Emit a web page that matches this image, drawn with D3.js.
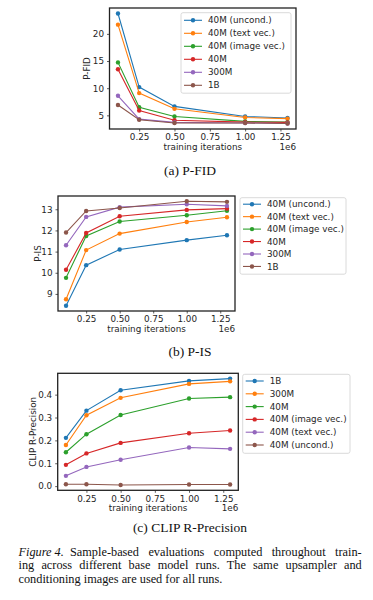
<!DOCTYPE html>
<html>
<head>
<meta charset="utf-8">
<script src="https://cdn.jsdelivr.net/npm/d3@7"></script>
<style>
  body { margin: 0; background: #fff; }
  svg { display: block; }
  .tick text, .lab, .leg { font-family: "DejaVu Sans", sans-serif; font-size: 8.8px; fill: #262626; }
  .cap { font-family: "Liberation Serif", "Times New Roman", serif; fill: #111; }
</style>
</head>
<body>
<svg id="fig" width="373" height="600"></svg>
<script>
// training iterations (x 1e6)
var iters = [0.1, 0.25, 0.5, 1.0, 1.3];
var xTicks = [0.25, 0.5, 0.75, 1.0, 1.25];

// run names, legend order
var runsAB = ["40M (uncond.)", "40M (text vec.)", "40M (image vec.)", "40M", "300M", "1B"];
var runsC = ["1B", "300M", "40M", "40M (image vec.)", "40M (text vec.)", "40M (uncond.)"];

var colors = ["#1f77b4", "#ff7f0e", "#2ca02c", "#d62728", "#9467bd", "#8c564b"];

// (a) P-FID, same order as runsAB
var pfid = [
  [23.75, 10.2, 6.65, 4.8, 4.5],
  [21.7, 9.1, 6.2, 4.6, 4.4],
  [14.75, 6.5, 4.8, 3.9, 3.75],
  [13.5, 5.9, 4.1, 3.75, 3.7],
  [8.6, 4.3, 3.7, 3.6, 3.5],
  [6.9, 4.2, 3.6, 3.6, 3.5]
];
var pfidTicks = [5, 10, 15, 20];

// (b) P-IS, same order as runsAB
var pis = [
  [8.44, 10.36, 11.1, 11.54, 11.77],
  [8.75, 11.07, 11.85, 12.4, 12.62],
  [9.76, 11.74, 12.42, 12.72, 12.93],
  [10.14, 11.88, 12.67, 12.97, 13.03],
  [11.3, 12.64, 13.1, 13.24, 13.16],
  [11.9, 12.92, 13.06, 13.38, 13.35]
];
var pisTicks = [9, 10, 11, 12, 13];

// (c) CLIP R-Precision, same order as runsC
var clip = [
  [0.211, 0.33, 0.419, 0.46, 0.47],
  [0.18, 0.31, 0.386, 0.447, 0.458],
  [0.148, 0.227, 0.311, 0.383, 0.389],
  [0.093, 0.143, 0.189, 0.231, 0.243],
  [0.045, 0.084, 0.115, 0.169, 0.163],
  [0.008, 0.008, 0.005, 0.007, 0.007]
];
var clipTicks = [0.0, 0.1, 0.2, 0.3, 0.4];

var svg = d3.select("#fig");

// matplotlib style 5% margins
function padded(values) {
  var ext = d3.extent(values);
  var m = (ext[1] - ext[0]) * 0.05;
  return [ext[0] - m, ext[1] + m];
}

function drawPanel(p) {
  var g = svg.append("g");
  var x = d3.scaleLinear().domain(padded(iters)).range([p.left, p.right]);
  var y = d3.scaleLinear().domain(padded(d3.merge(p.values))).range([p.bottom, p.top]);

  var xAxis = g.append("g")
    .attr("transform", "translate(0," + p.bottom + ")")
    .call(d3.axisBottom(x).tickValues(xTicks).tickFormat(d3.format(".2f")).tickSize(2.5).tickPadding(2.5));
  var yAxis = g.append("g")
    .attr("transform", "translate(" + p.left + ",0)")
    .call(d3.axisLeft(y).tickValues(p.yTicks).tickFormat(p.yFormat).tickSize(2.5).tickPadding(3));
  [xAxis, yAxis].forEach(function(a) {
    a.select(".domain").remove();
    a.attr("font-family", null).attr("font-size", null);
    a.selectAll(".tick line").attr("stroke", "#333").attr("stroke-width", 0.8);
  });

  var line = d3.line()
    .x(function(d, i) { return x(iters[i]); })
    .y(function(d) { return y(d); });

  p.values.forEach(function(vals, k) {
    g.append("path")
      .datum(vals)
      .attr("fill", "none")
      .attr("stroke", colors[k])
      .attr("stroke-width", 1.1)
      .attr("d", line);
    g.selectAll(null)
      .data(vals)
      .enter().append("circle")
      .attr("cx", function(d, i) { return x(iters[i]); })
      .attr("cy", function(d) { return y(d); })
      .attr("r", 2.2)
      .attr("fill", colors[k]);
  });

  // frame
  g.append("rect")
    .attr("x", p.left).attr("y", p.top)
    .attr("width", p.right - p.left).attr("height", p.bottom - p.top)
    .attr("fill", "none").attr("stroke", "#222").attr("stroke-width", 1.3);

  g.append("text").attr("class", "lab")
    .attr("x", (p.left + p.right) / 2).attr("y", p.bottom + 21)
    .attr("text-anchor", "middle")
    .text("training iterations");
  g.append("text").attr("class", "lab")
    .attr("x", p.right).attr("y", p.bottom + 21)
    .attr("text-anchor", "end")
    .text("1e6");
  g.append("text").attr("class", "lab")
    .attr("transform", "translate(" + p.ylabX + "," + (p.top + p.bottom) / 2 + ") rotate(-90)")
    .attr("text-anchor", "middle")
    .attr("dy", "0.35em")
    .text(p.ylabel);

  // legend
  var lg = p.legend;
  g.append("rect")
    .attr("x", lg.x).attr("y", lg.y)
    .attr("width", lg.w).attr("height", lg.h)
    .attr("rx", 2)
    .attr("fill", "#fff").attr("fill-opacity", 0.8)
    .attr("stroke", "#d0d0d0").attr("stroke-width", 0.8);
  var item = g.selectAll(null)
    .data(p.names)
    .enter().append("g")
    .attr("transform", function(d, i) { return "translate(" + lg.x + "," + (lg.row0 + i * lg.step) + ")"; });
  item.append("line")
    .attr("x1", 3).attr("x2", 21)
    .attr("stroke", function(d, i) { return colors[i]; })
    .attr("stroke-width", 1.1);
  item.append("circle")
    .attr("cx", 12).attr("r", 2.2)
    .attr("fill", function(d, i) { return colors[i]; });
  item.append("text").attr("class", "leg")
    .attr("x", 27).attr("dy", "0.35em")
    .text(function(d) { return d; });

  svg.append("text").attr("class", "cap")
    .attr("x", 190).attr("y", p.capY)
    .attr("text-anchor", "middle")
    .attr("font-size", "13.5px")
    .text(p.caption);
}

drawPanel({
  values: pfid, names: runsAB, yTicks: pfidTicks, yFormat: d3.format("d"),
  left: 109.5, right: 296, top: 8, bottom: 129,
  ylabel: "P-FID", ylabX: 87,
  legend: { x: 181, y: 12.7, w: 110, h: 80.5, row0: 20.3, step: 13 },
  caption: "(a) P-FID", capY: 174.5
});

drawPanel({
  values: pis, names: runsAB, yTicks: pisTicks, yFormat: d3.format("d"),
  left: 58, right: 235, top: 196, bottom: 311,
  ylabel: "P-IS", ylabX: 38,
  legend: { x: 240, y: 197.7, w: 106, h: 76.5, row0: 204.2, step: 12.45 },
  caption: "(b) P-IS", capY: 355.5
});

drawPanel({
  values: clip, names: runsC, yTicks: clipTicks, yFormat: d3.format(".1f"),
  left: 57.7, right: 238.3, top: 373.3, bottom: 490.3,
  ylabel: "CLIP R-Precision", ylabX: 33.3,
  legend: { x: 242.7, y: 374.3, w: 107.3, h: 79, row0: 381, step: 12.8 },
  caption: "(c) CLIP R-Precision", capY: 532
});

// figure caption, justified lines
var capLines = [
  { lead: "Figure 4.", text: "Sample-based evaluations computed throughout train-", justify: true },
  { lead: null, text: "ing across different base model runs. The same upsampler and", justify: true },
  { lead: null, text: "conditioning images are used for all runs.", justify: false }
];
var capLeft = 18.5, capRight = 361.7, leadX = 70;
capLines.forEach(function(ln, i) {
  var t = svg.append("text").attr("class", "cap")
    .attr("x", capLeft).attr("y", 556 + i * 13.4)
    .attr("font-size", "12.3px");
  var start = capLeft;
  if (ln.lead) {
    t.append("tspan").attr("font-style", "italic").text(ln.lead);
    start = leadX;
  }
  var body = t.append("tspan").attr("x", start).text(ln.text);
  if (ln.justify) {
    var w = body.node().getComputedTextLength();
    var spaces = ln.text.split(" ").length - 1;
    body.attr("word-spacing", ((capRight - start - w) / spaces) + "px");
  }
});
</script>
</body>
</html>
